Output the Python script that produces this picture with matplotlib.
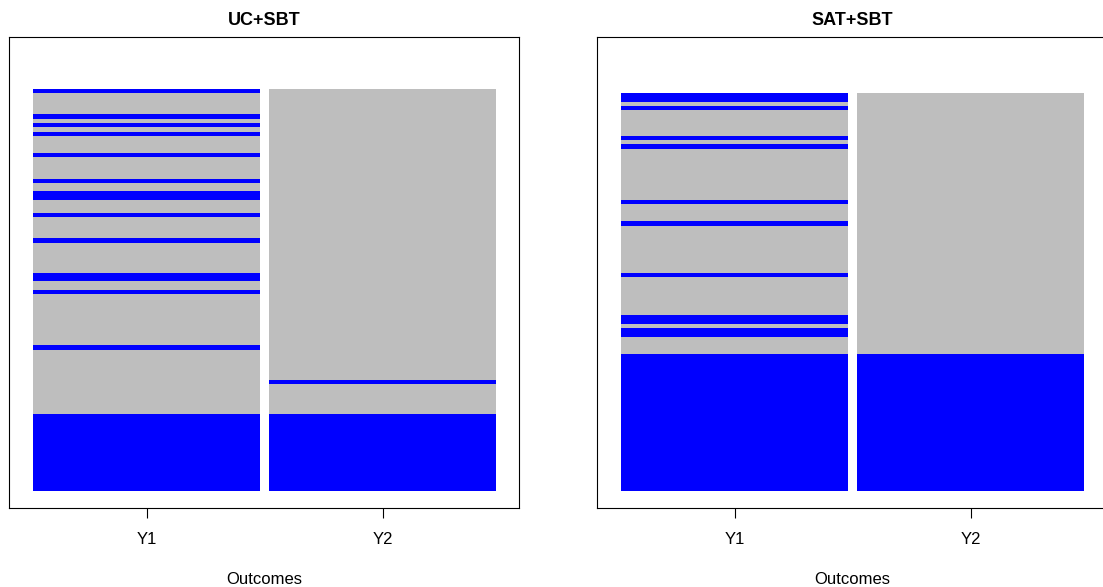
import numpy as np
import matplotlib.pyplot as plt

plt.rcParams['font.family'] = ['Liberation Sans', 'DejaVu Sans']

# run lengths of subjects stacked from the bottom, colours alternate
# starting with blue (event) then grey (no event)
uc_y1 = [18, 15, 1, 12, 1, 2, 2, 7, 1, 5, 1, 3, 2, 2, 1, 5, 1, 4, 1, 1, 1, 1, 1, 5, 1]
uc_y2 = [18, 7, 1, 68]
sat_y1 = [32, 4, 2, 1, 2, 9, 1, 11, 1, 4, 1, 12, 1, 1, 1, 6, 1, 1, 2]
sat_y2 = [32, 61]

outcomes = ["Y1", "Y2"]
titles = ["UC+SBT", "SAT+SBT"]
panels = [[uc_y1, uc_y2], [sat_y1, sat_y2]]

blue = "#0000FF"
grey = "#BEBEBE"

W, H = 1103, 587
fig = plt.figure(figsize=(W / 100, H / 100), dpi=100)

lefts = [9, 597]
for left, title, cols in zip(lefts, titles, panels):
    ax = fig.add_axes([left / W, (H - 508) / H, 510 / W, 471 / H])
    for i, runs in enumerate(cols):
        runs = np.array(runs)
        bottoms = np.concatenate([[0], np.cumsum(runs)[:-1]])
        colors = [blue if k % 2 == 0 else grey for k in range(len(runs))]
        ax.bar(np.full(len(runs), i), runs, bottom=bottoms, width=0.962,
               color=colors, linewidth=0)
    ax.set_xlim(-0.5826, 1.578)
    ax.set_ylim(-4.0, 106.1)
    ax.set_yticks([])
    ax.set_xticks(range(len(outcomes)))
    ax.set_xticklabels(outcomes, fontsize=12)
    ax.tick_params(axis="x", length=7.2, width=0.8, pad=10.3)
    for s in ax.spines.values():
        s.set_linewidth(0.8)
        s.set_color("black")
    ax.set_title(title, fontsize=13, fontweight="bold", pad=8.6)
    ax.set_xlabel("Outcomes", fontsize=12, labelpad=17.5)

fig.savefig("out.png", dpi=100)
